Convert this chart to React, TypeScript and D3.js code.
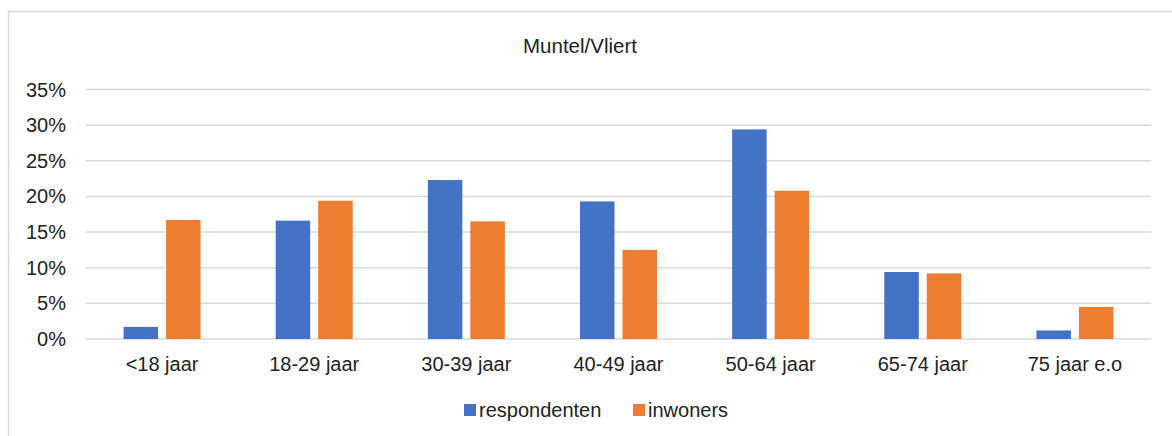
import React from "react";
import * as d3 from "d3";

const categories = ["<18 jaar", "18-29 jaar", "30-39 jaar", "40-49 jaar", "50-64 jaar", "65-74 jaar", "75 jaar e.o"];
const respondenten = [1.7, 16.6, 22.3, 19.3, 29.4, 9.4, 1.2];
const inwoners = [16.7, 19.4, 16.5, 12.5, 20.8, 9.2, 4.5];
const seriesNames = ["respondenten", "inwoners"];
const seriesColors = ["#4472C4", "#ED7D31"];
const yTicks = [0, 5, 10, 15, 20, 25, 30, 35];

export default function App() {
  const W = 1172, H = 436;
  const left = 86, right = 1151, top = 89.5, bottom = 339;
  const x = d3.scaleBand<string>().domain(categories).range([left, right]);
  const y = d3.scaleLinear().domain([0, 35]).range([bottom, top]);
  const barW = 34.5, gap = 8;
  const series = [respondenten, inwoners];
  const font = "'Liberation Sans', Arial, sans-serif";
  return (
    <svg width={W} height={H} style={{ position: "absolute", left: 0, top: 0 }} fontFamily={font}>
      <rect x={0} y={0} width={W} height={H} fill="#fff" />
      <rect x={8.5} y={11.5} width={W + 10} height={H + 10} fill="none" stroke="#d9d9d9" strokeWidth={1.5} />
      <text x={580} y={53} textAnchor="middle" fontSize={20.5} fill="#222">Muntel/Vliert</text>
      {yTicks.map((t) => (
        <g key={t}>
          <line x1={left} x2={right} y1={y(t)} y2={y(t)} stroke="#d9d9d9" strokeWidth={1.5} />
          <text x={66} y={y(t) + 7} textAnchor="end" fontSize={20} fill="#222">{t}%</text>
        </g>
      ))}
      {categories.map((c, i) => {
        const cx = x(c)! + x.bandwidth() / 2;
        const start = cx - (2 * barW + gap) / 2;
        return (
          <g key={c}>
            {series.map((s, j) => (
              <rect key={j} x={start + j * (barW + gap)} y={y(s[i])} width={barW} height={y(0) - y(s[i])} fill={seriesColors[j]} />
            ))}
            <text x={cx} y={371} textAnchor="middle" fontSize={20} fill="#222">{c}</text>
          </g>
        );
      })}
      {seriesNames.map((n, j) => {
        const lx = j === 0 ? 464 : 633;
        return (
          <g key={n}>
            <rect x={lx} y={404} width={12} height={12} fill={seriesColors[j]} />
            <text x={lx + 15} y={417} fontSize={20} fill="#222">{n}</text>
          </g>
        );
      })}
    </svg>
  );
}
